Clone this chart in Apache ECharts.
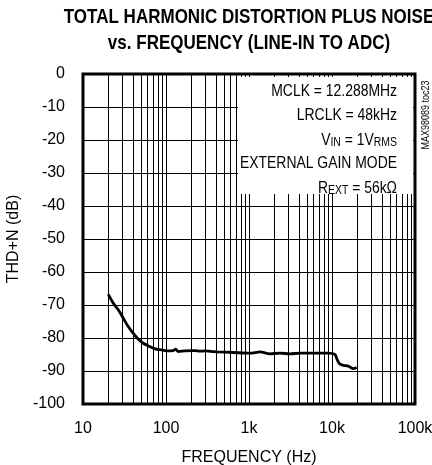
<!DOCTYPE html>
<html><head><meta charset="utf-8">
<script src="https://cdn.jsdelivr.net/npm/echarts@6/dist/echarts.min.js"></script>
<style>html,body{margin:0;padding:0;background:#fff}#c{width:432px;height:465px}</style>
</head><body><div id="c"></div>
<script>
var freq = [20.2,23.2,26.7,30.6,35.2,40.4,46.4,53.3,61.2,73.7,88.6,106.6,122,131,140.6,169,223,257,295,372,408,646,1028,1358,1791,2362,3117,4111,5425,7158,9020,10860,11380,12240,13690,15740,18070,19800];
var thdn = [-66.8,-69.5,-71.5,-74.0,-76.6,-78.6,-80.4,-81.6,-82.4,-83.3,-83.6,-83.9,-83.8,-83.4,-84.1,-83.9,-83.8,-84.0,-83.9,-84.1,-84.2,-84.4,-84.6,-84.2,-84.8,-84.6,-84.8,-84.6,-84.6,-84.6,-84.6,-85.0,-86.2,-87.7,-88.3,-88.5,-89.3,-88.9];
var minorFreqs = [20,30,40,50,60,70,80,90,200,300,400,500,600,700,800,900,2000,3000,4000,5000,6000,7000,8000,9000,20000,30000,40000,50000,60000,70000,80000,90000];
var xTickLabels = {10:'10',100:'100',1000:'1k',10000:'10k',100000:'100k'};
var titleLines = ['TOTAL HARMONIC DISTORTION PLUS NOISE','vs. FREQUENCY (LINE-IN TO ADC)'];
var FN = '"Liberation Sans",Arial,sans-serif';

var chart = echarts.init(document.getElementById('c'));
var data = freq.map(function(f,i){return [f,thdn[i]];});
var SX = 0.87;
function boxText(y, txt){
  return {type:'text',z:101,x:397,y:y,scaleX:SX,style:{text:txt,font:'16px '+FN,fill:'#000',textAlign:'right',textVerticalAlign:'middle'}};
}
var richSub = {n:{fontFamily:FN,fontSize:16,color:'#000',verticalAlign:'bottom',lineHeight:18},
               s:{fontFamily:FN,fontSize:12,color:'#000',verticalAlign:'bottom',lineHeight:14,padding:[3,0,0,0]}};
chart.setOption({
  animation:false,
  grid:{left:83,right:17,top:74,bottom:61,containLabel:false,outerBoundsMode:'none',show:true,borderColor:'#000',borderWidth:3},
  xAxis:{type:'log',min:10,max:100000,logBase:10,
    name:'FREQUENCY (Hz)',nameLocation:'middle',nameGap:46,
    nameTextStyle:{fontFamily:FN,fontSize:16,color:'#000'},
    axisLine:{show:false},axisTick:{show:false},
    axisLabel:{fontFamily:FN,fontSize:16,color:'#000',margin:17,formatter:function(v){return xTickLabels[Math.round(v)]||'';}},
    splitLine:{show:true,lineStyle:{color:'#000',width:1}}},
  yAxis:{type:'value',min:-100,max:0,interval:10,
    name:'THD+N (dB)',nameLocation:'middle',nameGap:57,
    nameTextStyle:{fontFamily:FN,fontSize:16,color:'#000'},
    axisLine:{show:false},axisTick:{show:false},
    axisLabel:{fontFamily:FN,fontSize:16,color:'#000',margin:18},
    splitLine:{show:true,lineStyle:{color:'#000',width:1}}},
  series:[{type:'line',data:data,showSymbol:false,smooth:0.3,
    lineStyle:{color:'#000',width:2.8},z:5,
    markLine:{silent:true,symbol:'none',label:{show:false},animation:false,
      lineStyle:{color:'#000',width:1,type:'solid'},
      data:minorFreqs.map(function(f){return {xAxis:f};})}}],
  graphic:[
    {type:'text',z:101,x:249,y:17,scaleX:0.81,style:{text:titleLines[0],font:'bold 21px '+FN,fill:'#000',textAlign:'center',textVerticalAlign:'middle'}},
    {type:'text',z:101,x:249,y:43,scaleX:0.81,style:{text:titleLines[1],font:'bold 21px '+FN,fill:'#000',textAlign:'center',textVerticalAlign:'middle'}},
    {type:'rect',z:100,shape:{x:238,y:77,width:175,height:117},style:{fill:'#fff'}},
    boxText(92,'MCLK = 12.288MHz'),
    boxText(116,'LRCLK = 48kHz'),
    {type:'text',z:101,x:397,y:140,scaleX:SX,style:{text:'{n|V}{s|IN}{n| = 1V}{s|RMS}',textAlign:'right',textVerticalAlign:'middle',rich:richSub}},
    boxText(164,'EXTERNAL GAIN MODE'),
    {type:'text',z:101,x:397,y:188,scaleX:SX,style:{text:'{n|R}{s|EXT}{n| = 56kΩ}',textAlign:'right',textVerticalAlign:'middle',rich:richSub}},
    {type:'text',z:101,x:426,y:115,rotation:Math.PI/2,scaleX:0.9,style:{text:'MAX98089 toc23',font:'10px '+FN,fill:'#000',textAlign:'center',textVerticalAlign:'middle'}}
  ]
});
</script></body></html>
